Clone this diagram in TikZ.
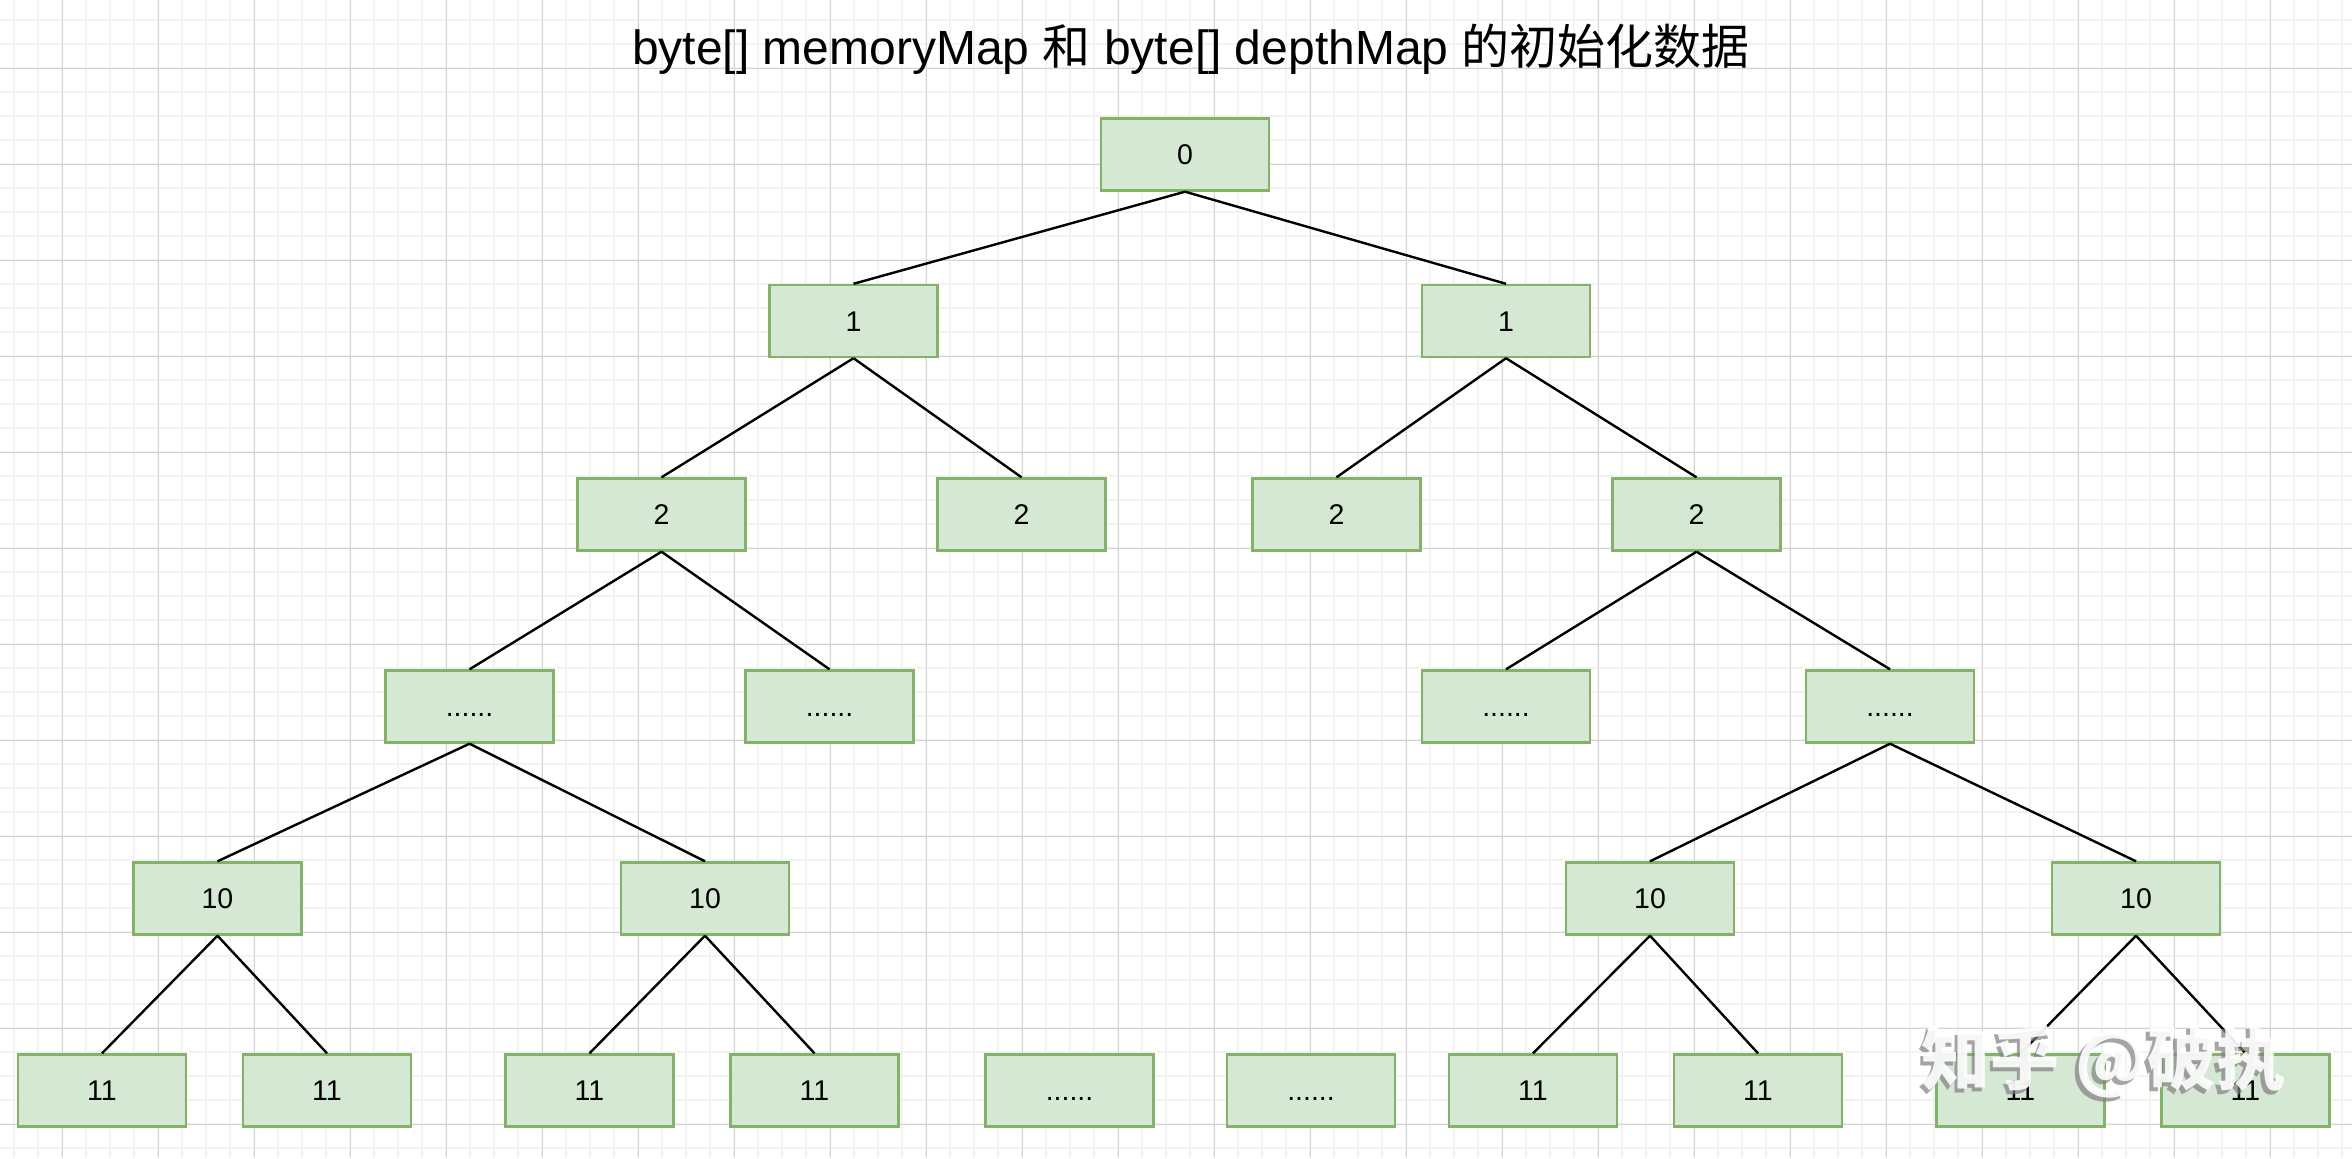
\documentclass[tikz,border=0pt]{standalone}
\usepackage{fontspec}
\setmainfont{Liberation Sans}
\newfontfamily\cjk{Noto Sans CJK SC}
\definecolor{boxfill}{RGB}{213,232,212}
\definecolor{boxline}{RGB}{130,179,102}
\definecolor{gridminor}{RGB}{242,242,242}
\definecolor{gridmajor}{RGB}{212,212,212}
\tikzset{
  box/.style={draw=boxline, fill=boxfill, line width=1.6pt, minimum width=112pt, minimum height=48pt,
    inner sep=0pt, text height=13.7pt, text depth=0pt, font=\fontsize{19}{19}\selectfont},
  edge/.style={line width=1.6pt, draw=black},
  titlefont/.style={font=\fontsize{32}{32}\selectfont},
  wmfont/.style={font=\cjk\bfseries\fontsize{46}{46}\selectfont},
}
\begin{document}
\begin{tikzpicture}[x=1pt,y=-1pt]
\useasboundingbox (0,0) rectangle (1568,772);
\fill[white] (0,0) rectangle (1568,772);
% grid
\foreach \i in {0,...,97} {\draw[gridminor, line width=1.1pt] ({9.5+16*\i},0) -- ({9.5+16*\i},772);}
\foreach \j in {0,...,47} {\draw[gridminor, line width=1.1pt] (0,{13.5+16*\j}) -- (1568,{13.5+16*\j});}
\foreach \i in {0,...,24} {\draw[gridmajor, line width=0.7pt] ({41.5+64*\i},0) -- ({41.5+64*\i},772);}
\foreach \j in {0,...,11} {\draw[gridmajor, line width=0.7pt] (0,{45.5+64*\j}) -- (1568,{45.5+64*\j});}
% title
\node[anchor=base, titlefont, inner sep=0pt] (title) at (794,43.3) {byte[] memoryMap {\cjk 和} byte[] depthMap {\cjk 的初始化数据}};
% nodes
\node[box] (r) at (790,103) {0};
\node[box] (a1) at (569,214) {1};
\node[box] (a2) at (1004,214) {1};
\node[box] (b1) at (441,343) {2};
\node[box] (b2) at (681,343) {2};
\node[box] (b3) at (891,343) {2};
\node[box] (b4) at (1131,343) {2};
\node[box] (c1) at (313,471) {......};
\node[box] (c2) at (553,471) {......};
\node[box] (c3) at (1004,471) {......};
\node[box] (c4) at (1260,471) {......};
\node[box] (d1) at (145,599) {10};
\node[box] (d2) at (470,599) {10};
\node[box] (d3) at (1100,599) {10};
\node[box] (d4) at (1424,599) {10};
\node[box] (e1) at (68,727) {11};
\node[box] (e2) at (218,727) {11};
\node[box] (e3) at (393,727) {11};
\node[box] (e4) at (543,727) {11};
\node[box] (e5) at (713,727) {......};
\node[box] (e6) at (874,727) {......};
\node[box] (e7) at (1022,727) {11};
\node[box] (e8) at (1172,727) {11};
\node[box] (e9) at (1347,727) {11};
\node[box] (e10) at (1497,727) {11};
% edges
\draw[edge] (r.south) -- (a1.north);
\draw[edge] (r.south) -- (a2.north);
\draw[edge] (a1.south) -- (b1.north);
\draw[edge] (a1.south) -- (b2.north);
\draw[edge] (a2.south) -- (b3.north);
\draw[edge] (a2.south) -- (b4.north);
\draw[edge] (b1.south) -- (c1.north);
\draw[edge] (b1.south) -- (c2.north);
\draw[edge] (b4.south) -- (c3.north);
\draw[edge] (b4.south) -- (c4.north);
\draw[edge] (c1.south) -- (d1.north);
\draw[edge] (c1.south) -- (d2.north);
\draw[edge] (c4.south) -- (d3.north);
\draw[edge] (c4.south) -- (d4.north);
\draw[edge] (d1.south) -- (e1.north);
\draw[edge] (d1.south) -- (e2.north);
\draw[edge] (d2.south) -- (e3.north);
\draw[edge] (d2.south) -- (e4.north);
\draw[edge] (d3.south) -- (e7.north);
\draw[edge] (d3.south) -- (e8.north);
\draw[edge] (d4.south) -- (e9.north);
\draw[edge] (d4.south) -- (e10.north);
% watermark
\node[text=gray, opacity=0.7, wmfont, inner sep=0pt] (wmshadow) at (1400,710.5) {知乎 @破执};
\node[text=white, opacity=0.9, wmfont, inner sep=0pt] (wm) at (1402.5,708) {知乎 @破执};
\end{tikzpicture}
\end{document}
